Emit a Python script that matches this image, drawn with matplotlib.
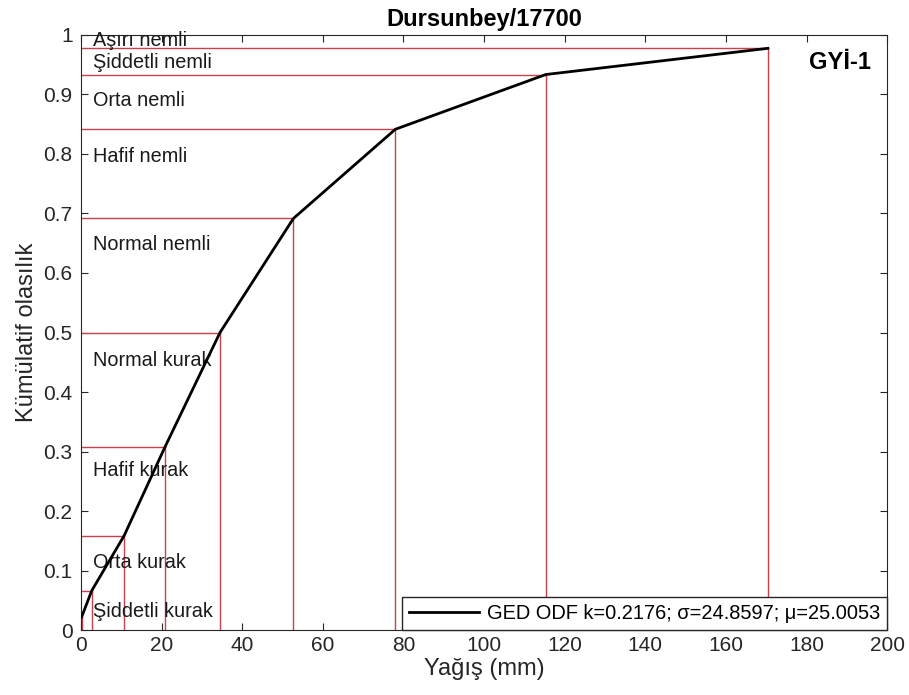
import matplotlib.pyplot as plt

plt.rcParams['font.family'] = ['Liberation Sans', 'DejaVu Sans']

# class thresholds (cumulative probability) and matching rainfall (mm)
prob = [0.0228, 0.0668, 0.1587, 0.3085, 0.5, 0.6915, 0.8413, 0.9332, 0.9772]
rain = [0.2, 2.7, 10.7, 20.9, 34.5, 52.7, 78.0, 115.3, 170.4]

classes = ['Şiddetli kurak', 'Orta kurak', 'Hafif kurak', 'Normal kurak',
           'Normal nemli', 'Hafif nemli', 'Orta nemli', 'Şiddetli nemli',
           'Aşırı nemli']
class_y = [0.032, 0.114, 0.268, 0.453, 0.648, 0.795, 0.889, 0.953, 0.99]

fig, ax = plt.subplots(figsize=(9.09, 6.95), dpi=100)
fig.subplots_adjust(left=0.089, right=0.976, bottom=0.093, top=0.95)

red = '#c8404a'
# Horizontal and vertical class boundaries
for x, p in zip(rain, prob):
    ax.plot([0, x], [p, p], color=red, lw=1)
    ax.plot([x, x], [0, p], color=red, lw=1)

# CDF curve
ax.plot(rain, prob, color='black', lw=2,
        label='GED ODF k=0.2176; σ=24.8597; μ=25.0053', zorder=5)

for name, y in zip(classes, class_y):
    ax.text(3, y, name, fontsize=14.3, va='center', ha='left', color='#1a1a1a')

ax.text(196, 0.953, 'GYİ-1', fontsize=17, fontweight='bold', ha='right', va='center')

ax.set_xlim(0, 200)
ax.set_ylim(0, 1)
ax.set_xticks(range(0, 201, 20))
ax.set_yticks([i / 10 for i in range(11)])
ax.set_yticklabels(['0', '0.1', '0.2', '0.3', '0.4', '0.5', '0.6', '0.7', '0.8', '0.9', '1'])
ax.tick_params(direction='in', top=True, right=True, labelsize=15, colors='#262626', length=5)
ax.tick_params(axis='y', pad=6)
ax.tick_params(axis='x', pad=4)
for s in ax.spines.values():
    s.set_color('#262626')

ax.set_xlabel('Yağış (mm)', fontsize=17, color='#262626', labelpad=2)
ax.set_ylabel('Kümülatif olasılık', fontsize=17, color='#262626', labelpad=4)
ax.set_title('Dursunbey/17700', fontsize=17, fontweight='bold', pad=6)

leg = ax.legend(loc='lower right', fontsize=14.4, fancybox=False, handlelength=3.5,
                handletextpad=0.4, borderaxespad=0, borderpad=0.35,
                framealpha=1, edgecolor='#262626')
leg.get_frame().set_linewidth(1)

plt.savefig('out.png', dpi=100)
